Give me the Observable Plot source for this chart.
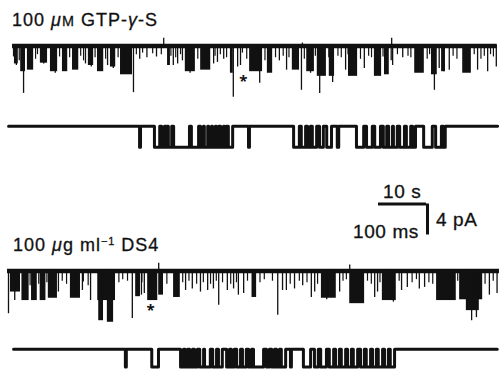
<!DOCTYPE html>
<html><head><meta charset="utf-8">
<script src="https://cdn.jsdelivr.net/npm/d3@7"></script>
<script src="https://cdn.jsdelivr.net/npm/@observablehq/plot@0.6"></script>
<style>
body{margin:0;background:#fff;}
#fig{position:relative;width:499px;height:371px;overflow:hidden;font-family:"Liberation Sans",Arial,Helvetica,sans-serif;color:#111;}
.lbl{position:absolute;white-space:nowrap;font-size:17px;line-height:1;-webkit-text-stroke:0.3px #111;}
.panel{position:absolute;}
.sc{font-size:0.8em;}
</style></head><body><div id="fig"></div>
<script>
// ---------- DATA ----------
const titles = ["100 μM GTP-γ-S", "100 μg ml−1 DS4"];
const scaleLabels = {slow: "10 s", fast: "100 ms", current: "4 pA"};
const scaleValues = {slowSec: 10, fastMs: 100, currentPA: 4};

// Trace 1: GTP-γ-S, slow time base (s); bursts [t0, t1, depth pA], spikes [t, depth pA], flickers [t, depth pA], upward spikes [t, pA]
const gtpSlowBlocks = [[0.4,1.2,2.4],[1.7,2.7,3.4],[3.1,4.4,3.2],[5.8,7.3,2.3],[7.9,9.4,3.4],[10.4,11.5,3.4],[12.5,13.8,3.2],[15.8,16.9,2.6],[17.7,19.0,3.4],[20.4,21.5,2.8],[22.5,25.0,3.8],[32.3,32.9,2.6],[36.0,38.1,3.4],[39.2,41.3,3.2],[45.4,46.0,3.6],[49.4,52.1,3.4],[53.1,54.2,3.6],[58.3,59.8,3.2],[61.3,62.9,3.4],[63.5,65.4,4.0],[66.0,67.1,4.0],[70.0,71.9,4.0],[75.4,76.9,4.0],[77.5,78.5,3.8],[83.8,85.8,3.6],[87.3,88.5,3.8],[89.4,90.2,3.4],[93.8,95.6,3.6]];
const gtpSlowSpikes = [[2.3,6.2],[0.8,2.6],[6.5,2.4],[8.9,3.6],[15.2,2.4],[16.4,2.8],[19.8,2.6],[21.0,3.0],[25.2,6.1],[26.5,1.8],[28.0,1.6],[30.0,1.5],[33.5,2.6],[34.4,2.4],[35.4,2.0],[37.0,3.6],[41.9,2.4],[42.7,2.2],[44.0,1.8],[46.0,6.7],[46.9,2.8],[47.5,2.6],[51.5,4.9],[55.6,2.0],[57.1,3.2],[60.2,5.8],[62.1,3.6],[64.0,6.2],[66.7,4.8],[69.4,3.2],[73.3,3.0],[78.9,2.0],[79.2,2.6],[81.3,1.6],[87.9,5.8],[88.9,3.0],[89.9,3.4],[91.0,3.2],[96.9,3.2],[99.0,3.4],[100.8,2.8]];
const gtpSlowFlickers = [[0.2,1.5],[1.4,2.0],[4.8,1.8],[5.2,1.2],[9.8,1.5],[11.9,1.6],[14.2,1.4],[14.8,2.0],[17.2,1.6],[19.4,1.8],[22.0,1.6],[25.8,1.2],[27.1,1.0],[29.2,1.1],[31.0,1.2],[33.0,1.4],[34.0,1.6],[35.0,1.2],[38.6,1.8],[42.2,1.4],[43.3,1.2],[44.6,1.6],[47.9,1.0],[48.8,1.8],[52.6,2.0],[54.8,1.6],[56.4,1.4],[57.6,1.6],[60.8,1.8],[63.1,1.4],[65.9,1.6],[67.8,1.4],[68.5,1.6],[69.9,1.2],[72.5,1.8],[74.2,1.4],[74.8,1.6],[77.2,1.5],[80.2,1.2],[82.4,1.4],[83.0,1.6],[86.4,1.8],[86.9,1.2],[91.8,1.4],[92.6,1.8],[96.2,1.2],[97.6,1.8],[98.3,1.4],[99.6,1.2],[100.2,1.5]];
const gtpSlowUps = [[31.5,0.9],[79.0,0.9],[60.4,0.3]];
const gtpStar = [[48.1,-4.3]];

// Trace 2: GTP-γ-S, fast time base (ms); openings [start ms, end ms]
const gtpFastOpenings = [[273,275],[304,315],[319,325],[329,331],[333,340],[344,377],[381,396],[400,406],[408,415],[417,423],[425,431],[433,438],[442,448],[450,454],[458,467],[500,502],[594,606],[610,619],[623,629],[633,642],[648,656],[663,673],[685,688],[725,740],[746,758],[763,775],[781,788],[792,800],[802,810],[815,825],[829,838],[842,848],[865,883],[890,902],[906,910]];
const gtpFastAmp = 2.7;

// Trace 3: DS4, slow time base (s)
const ds4SlowBlocks = [[0.6,2.7,2.8],[3.0,4.5,3.9],[5.0,6.2,3.9],[6.8,8.0,3.9],[8.5,10.4,3.6],[13.1,15.2,3.6],[18.8,22.5,3.9],[19.0,20.0,6.5],[20.8,22.1,6.7],[26.7,27.7,3.4],[29.2,31.3,3.9],[31.5,32.5,3.2],[34.6,36.0,3.5],[51.0,51.9,3.5],[65.4,68.5,3.6],[71.3,74.4,4.3],[78.1,81.0,3.9],[89.4,93.5,3.9],[94.2,99.0,3.8],[95.6,98.3,5.2]];
const ds4SlowSpikes = [[0.2,5.6],[1.5,3.9],[10.6,2.8],[15.6,2.6],[17.3,3.9],[26.0,6.2],[27.9,3.2],[28.5,3.0],[29.8,3.9],[37.1,2.6],[38.5,2.4],[40.2,2.8],[41.7,2.6],[42.9,2.4],[44.0,4.5],[45.8,2.6],[47.1,2.4],[48.1,3.2],[49.2,3.0],[51.0,3.5],[56.3,5.8],[57.3,2.6],[58.1,2.6],[59.8,2.4],[61.5,2.0],[63.3,3.5],[64.0,2.8],[66.5,3.8],[69.2,2.8],[76.5,3.5],[77.1,2.8],[80.4,4.1],[82.1,2.6],[83.3,2.2],[85.8,2.4],[86.9,2.2],[96.7,6.5],[97.7,6.1],[100.4,3.2],[102.0,3.0]];
const ds4SlowFlickers = [[0.8,1.6],[2.2,1.8],[4.7,2.0],[6.5,1.8],[8.2,1.6],[11.4,1.4],[12.3,1.8],[15.8,1.5],[16.8,2.0],[23.2,1.6],[24.0,1.2],[25.0,1.4],[28.0,1.6],[30.6,1.5],[33.2,1.8],[36.5,1.6],[37.8,1.4],[39.4,1.8],[40.8,1.6],[42.3,1.8],[43.5,1.4],[44.8,1.6],[46.5,1.8],[47.7,1.6],[50.0,1.4],[52.6,1.6],[53.5,1.2],[55.2,1.4],[58.9,1.8],[60.8,1.4],[62.4,1.6],[64.6,1.8],[69.9,1.4],[70.6,1.2],[75.0,1.4],[75.8,1.8],[77.6,1.6],[81.6,1.4],[84.3,1.6],[85.2,1.2],[87.8,1.6],[88.6,1.8],[93.8,1.4],[99.5,1.8],[101.2,1.4]];
const ds4SlowUps = [[31.5,0.9],[71.3,0.7]];
const ds4Star = [[29.8,-4.8]];

// Trace 4: DS4, fast time base (ms)
const ds4FastOpenings = [[233,235],[288,302],[348,354],[358,363],[367,373],[377,383],[388,396],[398,410],[415,423],[427,435],[444,450],[454,460],[465,473],[477,485],[490,496],[500,521],[527,533],[538,544],[548,554],[558,567],[577,579],[604,619],[627,635],[640,652],[658,667],[671,679],[683,692],[696,704],[708,717],[723,731],[735,744],[748,756],[760,769],[773,781],[785,794]];
const ds4FastAmp = 2.3;

// ---------- DRAWING ----------
const INK = "#111";
const PX_PER_PA = 7.75, PX_PER_S = 4.8, PX_PER_MS = 0.48;
const fig = document.getElementById("fig");
const svgStyle = "background:transparent;overflow:visible;";

function place(el, left, top) {
  el.classList.add("panel");
  el.style.left = left + "px"; el.style.top = top + "px";
  fig.appendChild(el);
}

function slowTrace(blocks, spikes, flickers, ups, star, T, left, baseY) {
  const yDom = [-7.2, 1.4];
  const p = Plot.plot({
    width: T * PX_PER_S, height: (yDom[1] - yDom[0]) * PX_PER_PA, margin: 0, style: svgStyle,
    x: {domain: [0, T], axis: null}, y: {domain: yDom, axis: null},
    marks: [
      Plot.ruleY([-0.1], {x1: 0, x2: T, stroke: INK, strokeWidth: 4.5}),
      Plot.rect(blocks, {x1: d => d[0], x2: d => d[1], y1: 0, y2: d => -d[2], fill: INK}),
      Plot.ruleX(spikes, {x: d => d[0], y1: 0, y2: d => -d[1], stroke: INK, strokeWidth: 1.3}),
      Plot.ruleX(flickers, {x: d => d[0], y1: 0, y2: d => -d[1], stroke: INK, strokeWidth: 1.2}),
      Plot.ruleX(ups, {x: d => d[0], y1: 0, y2: d => d[1], stroke: INK, strokeWidth: 1.3}),
      Plot.text(star, {x: d => d[0], y: d => d[1], text: () => "*", fontSize: 15, fontWeight: "bold", fill: INK, dy: 3})
    ]
  });
  place(p, left, baseY - yDom[1] * PX_PER_PA);
}

function fastTrace(openings, amp, T, left, baseY) {
  const pts = [[0, 0]];
  for (const [a, b] of openings) { pts.push([a, 0], [a, -amp], [b, -amp], [b, 0]); }
  pts.push([T, 0]);
  const yDom = [-3.6, 1];
  const p = Plot.plot({
    width: T * PX_PER_MS, height: (yDom[1] - yDom[0]) * PX_PER_PA, margin: 0, style: svgStyle,
    x: {domain: [0, T], axis: null}, y: {domain: yDom, axis: null},
    marks: [
      Plot.line(pts, {x: d => d[0], y: d => d[1], stroke: INK, strokeWidth: 3, strokeLinejoin: "round"})
    ]
  });
  place(p, left, baseY - yDom[1] * PX_PER_PA);
}

slowTrace(gtpSlowBlocks, gtpSlowSpikes, gtpSlowFlickers, gtpSlowUps, gtpStar, 101, 12, 45);
fastTrace(gtpFastOpenings, gtpFastAmp, 1019, 8, 126);
slowTrace(ds4SlowBlocks, ds4SlowSpikes, ds4SlowFlickers, ds4SlowUps, ds4Star, 102.5, 7, 270);
fastTrace(ds4FastOpenings, ds4FastAmp, 1008, 13, 349);

// calibration bar
const sb = Plot.plot({
  width: scaleValues.slowSec * PX_PER_S + 3, height: scaleValues.currentPA * PX_PER_PA + 3,
  marginLeft: 0, marginRight: 3, marginTop: 1.5, marginBottom: 1.5, style: svgStyle,
  x: {domain: [0, scaleValues.slowSec], axis: null}, y: {domain: [0, scaleValues.currentPA], axis: null},
  marks: [
    Plot.ruleY([scaleValues.currentPA], {x1: 0, x2: scaleValues.slowSec, stroke: INK, strokeWidth: 3}),
    Plot.ruleX([scaleValues.slowSec], {y1: 0, y2: scaleValues.currentPA, stroke: INK, strokeWidth: 3, dx: 1})
  ]
});
place(sb, 378, 202);

function label(html, left, top, size, spacing) {
  const d = document.createElement("div");
  d.className = "lbl"; d.innerHTML = html;
  d.style.left = left + "px"; d.style.top = top + "px";
  d.style.fontSize = size + "px";
  d.style.letterSpacing = spacing + "px";
  fig.appendChild(d);
}
const t1 = titles[0].split(" ");
label(`${t1[0]} <i>μ</i><span class="sc">M</span> GTP-<i>γ</i>-S`, 12, 11, 18, 1);
label(`100 <i>μ</i>g ml<sup style="font-size:0.6em;vertical-align:0.6em">−1</sup> DS4`, 13, 236, 18, 1);
label(scaleLabels.slow, 383, 182, 19, 0.6);
label(scaleLabels.fast, 353, 222, 19, 0.6);
label(scaleLabels.current, 436, 210, 19, 0.6);
</script></body></html>
